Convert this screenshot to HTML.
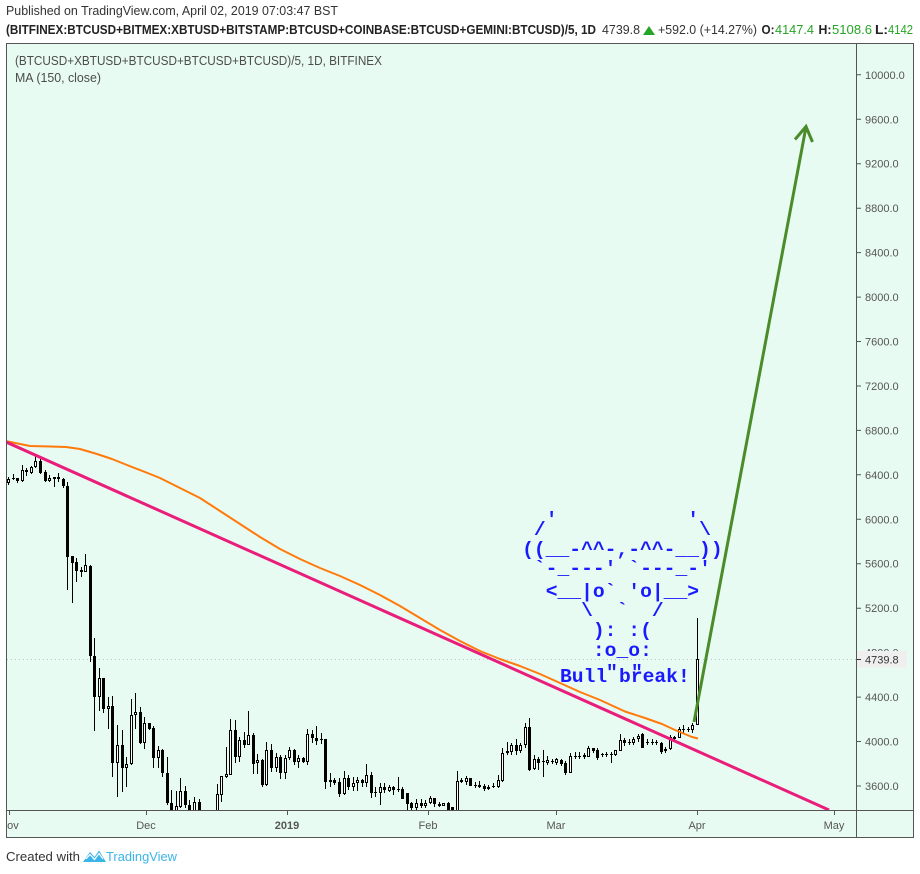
<!DOCTYPE html>
<html><head><meta charset="utf-8"><style>html,body{margin:0;padding:0;background:#fff}svg{display:block}</style></head>
<body>
<svg xmlns="http://www.w3.org/2000/svg" width="920" height="874" viewBox="0 0 920 874" font-family="'Liberation Sans', Arial, sans-serif">
<rect x="0" y="0" width="920" height="874" fill="#ffffff"/>
<!-- header -->
<text x="6" y="15" font-size="12.5" fill="#333" textLength="332" lengthAdjust="spacingAndGlyphs">Published on TradingView.com, April 02, 2019 07:03:47 BST</text>
<text x="6" y="34" font-size="12.5" font-weight="bold" fill="#222" textLength="590" lengthAdjust="spacingAndGlyphs">(BITFINEX:BTCUSD+BITMEX:XBTUSD+BITSTAMP:BTCUSD+COINBASE:BTCUSD+GEMINI:BTCUSD)/5, 1D</text>
<text x="602" y="34" font-size="12.5" fill="#333" textLength="38" lengthAdjust="spacingAndGlyphs">4739.8</text>
<polygon points="643,35 655,35 649,26" fill="#25a525"/>
<text x="658" y="34" font-size="12.5" fill="#333" textLength="99" lengthAdjust="spacingAndGlyphs">+592.0 (+14.27%)</text>
<text x="761.5" y="34" font-size="12.5" font-weight="bold" fill="#222" textLength="13" lengthAdjust="spacingAndGlyphs">O:</text>
<text x="775" y="34" font-size="12.5" fill="#25a525" textLength="39" lengthAdjust="spacingAndGlyphs">4147.4</text>
<text x="818.5" y="34" font-size="12.5" font-weight="bold" fill="#222" textLength="13" lengthAdjust="spacingAndGlyphs">H:</text>
<text x="832" y="34" font-size="12.5" fill="#25a525" textLength="40" lengthAdjust="spacingAndGlyphs">5108.6</text>
<text x="875" y="34" font-size="12.5" font-weight="bold" fill="#222" textLength="13" lengthAdjust="spacingAndGlyphs">L:</text>
<text x="888" y="34" font-size="12.5" fill="#25a525" textLength="25" lengthAdjust="spacingAndGlyphs">4142</text>

<!-- chart frame -->
<rect x="6.5" y="43.5" width="907" height="794" fill="#e8fbf2" stroke="#555" stroke-width="1"/>
<line x1="856.5" y1="43" x2="856.5" y2="838" stroke="#555" stroke-width="1"/>
<line x1="6" y1="810.5" x2="914" y2="810.5" stroke="#555" stroke-width="1"/>

<!-- legend -->
<text x="15" y="65" font-size="12.5" fill="#4c4c4c" textLength="367" lengthAdjust="spacingAndGlyphs">(BTCUSD+XBTUSD+BTCUSD+BTCUSD+BTCUSD)/5, 1D, BITFINEX</text>
<text x="15" y="82" font-size="12.5" fill="#4c4c4c" textLength="86" lengthAdjust="spacingAndGlyphs">MA (150, close)</text>

<!-- price axis -->
<g stroke="#555" stroke-width="1">
<path d="M857 74.8h4M857 119.3h4M857 163.7h4M857 208.2h4M857 252.6h4M857 297.1h4M857 341.5h4M857 386h4M857 430.4h4M857 474.8h4M857 519.3h4M857 563.7h4M857 608.2h4M857 697.1h4M857 741.5h4M857 786h4"/>
</g>
<g font-size="11" fill="#555">
<text x="865" y="78.8">10000.0</text>
<text x="865" y="123.3">9600.0</text>
<text x="865" y="167.7">9200.0</text>
<text x="865" y="212.2">8800.0</text>
<text x="865" y="256.6">8400.0</text>
<text x="865" y="301.1">8000.0</text>
<text x="865" y="345.5">7600.0</text>
<text x="865" y="390">7200.0</text>
<text x="865" y="434.4">6800.0</text>
<text x="865" y="478.8">6400.0</text>
<text x="865" y="523.3">6000.0</text>
<text x="865" y="567.7">5600.0</text>
<text x="865" y="612.2">5200.0</text>
<text x="865" y="656.6">4800.0</text>
<text x="865" y="701.1">4400.0</text>
<text x="865" y="745.5">4000.0</text>
<text x="865" y="790">3600.0</text>
</g>
<rect x="857" y="651" width="50" height="16.5" fill="#efefef"/>
<line x1="857" y1="659.5" x2="861" y2="659.5" stroke="#333" stroke-width="1"/>
<text x="865" y="663.5" font-size="11" fill="#333">4739.8</text>

<!-- time axis -->
<path d="M9.5 811v4M146.5 811v4M287.5 811v4M428.5 811v4M556.5 811v4M697.5 811v4M834.5 811v4" stroke="#555" stroke-width="1"/>
<clipPath id="tc"><rect x="7" y="811" width="849" height="26"/></clipPath>
<g font-size="11" fill="#555" text-anchor="middle" clip-path="url(#tc)">
<text x="9" y="829">Nov</text>
<text x="146" y="829">Dec</text>
<text x="287" y="829" font-weight="bold">2019</text>
<text x="428" y="829">Feb</text>
<text x="556" y="829">Mar</text>
<text x="697" y="829">Apr</text>
<text x="834" y="829">May</text>
</g>

<clipPath id="pc"><rect x="7" y="44" width="849" height="766"/></clipPath>
<g clip-path="url(#pc)">
<line x1="7" y1="659.5" x2="856" y2="659.5" stroke="#9a9a9a" stroke-width="1" stroke-dasharray="1 3" opacity="0.5"/>
<!-- wicks -->
<path fill="none" stroke="#000" stroke-width="1" d="M8.5 477V485M13.5 474V480M17.5 478V483M22.5 465V482M26.5 468V476M31.5 466V474M35.5 456V468M40.5 459V474M45.5 470V482M49.5 475V482M54.5 477V487M58.5 473V482M63.5 478V488M67.5 482V590M72.5 556V603M76.5 558V582M81.5 567V577M85.5 554V572M90.5 565V662M94.5 638V731M99.5 668V711M103.5 678V713M108.5 697V729M112.5 696V777M117.5 725V797M122.5 730V792M126.5 757V787M131.5 699V765M135.5 693V729M140.5 707V744M144.5 717V749M149.5 723V730M153.5 726V768M158.5 746V768M162.5 749V777M167.5 757V805M171.5 790V812M176.5 791V812M180.5 778V808M185.5 786V808M189.5 800V812M194.5 797V812M199.5 799V812M217.5 784V812M221.5 776V802M226.5 747V778M230.5 719V775M235.5 720V763M239.5 737V762M244.5 732V748M248.5 711V745M253.5 733V774M257.5 754V774M262.5 759V787M266.5 742V786M271.5 744V772M276.5 753V772M280.5 755V779M285.5 755V779M289.5 747V760M294.5 749V765M298.5 755V768M303.5 757V763M307.5 729V765M312.5 730V743M316.5 726V745M321.5 733V744M325.5 739V789M330.5 773V787M334.5 778V785M339.5 778V797M344.5 771V795M348.5 775V790M353.5 777V791M357.5 777V791M362.5 779V787M366.5 764V787M371.5 772V798M375.5 787V797M380.5 783V805M384.5 783V793M389.5 785V792M393.5 786V795M398.5 777V792M402.5 787V799M407.5 793V812M411.5 802V812M416.5 799V812M421.5 799V808M425.5 800V808M430.5 796V804M434.5 798V807M439.5 802V807M443.5 803V806M448.5 802V812M452.5 807V812M457.5 771V812M461.5 778V783M466.5 776V785M470.5 778V786M475.5 782V788M479.5 781V788M484.5 784V791M488.5 785V790M493.5 783V788M498.5 775V788M502.5 748V782M507.5 742V755M511.5 743V755M516.5 739V755M520.5 743V753M525.5 723V748M529.5 718V771M534.5 755V770M538.5 757V770M543.5 750V777M547.5 756V765M552.5 759V764M556.5 758V765M561.5 759V766M565.5 761V775M570.5 753V773M575.5 752V759M579.5 752V759M584.5 753V759M588.5 746V757M593.5 748V753M597.5 748V760M602.5 753V757M606.5 752V757M611.5 752V763M615.5 750V756M620.5 734V751M624.5 738V746M629.5 739V745M633.5 737V745M638.5 734V742M642.5 733V748M647.5 739V745M652.5 739V745M656.5 740V745M661.5 742V754M665.5 747V753M670.5 735V750M674.5 736V740M679.5 727V738M683.5 725V733M688.5 727V732M692.5 723V733M697.5 618V725"/>
<!-- black bodies -->
<path fill="#000" d="M12 478h3V479h-3ZM16 478h3V481h-3ZM25 470h3V472h-3ZM39 461h3V473h-3ZM44 472h3V481h-3ZM53 477h3V479h-3ZM57 477h3V479h-3ZM62 479h3V486h-3ZM66 486h3V557h-3ZM71 556h3V563h-3ZM75 562h3V571h-3ZM80 570h3V572h-3ZM89 566h3V656h-3ZM93 656h3V697h-3ZM102 678h3V709h-3ZM111 706h3V763h-3ZM121 745h3V768h-3ZM139 712h3V743h-3ZM148 723h3V729h-3ZM152 728h3V758h-3ZM161 750h3V773h-3ZM166 773h3V803h-3ZM170 803h3V812h-3ZM184 791h3V805h-3ZM188 805h3V812h-3ZM198 802h3V812h-3ZM234 730h3V757h-3ZM243 740h3V745h-3ZM252 735h3V764h-3ZM261 760h3V785h-3ZM270 750h3V768h-3ZM279 757h3V773h-3ZM293 750h3V762h-3ZM302 758h3V762h-3ZM311 734h3V738h-3ZM315 738h3V741h-3ZM320 739h3V740h-3ZM324 739h3V782h-3ZM329 780h3V782h-3ZM333 780h3V783h-3ZM338 782h3V794h-3ZM347 778h3V787h-3ZM361 780h3V783h-3ZM370 775h3V793h-3ZM374 792h3V793h-3ZM383 787h3V790h-3ZM392 787h3V790h-3ZM397 789h3V790h-3ZM401 789h3V799h-3ZM406 793h3V804h-3ZM410 803h3V808h-3ZM420 803h3V806h-3ZM433 798h3V804h-3ZM438 804h3V806h-3ZM447 803h3V812h-3ZM451 807h3V812h-3ZM460 780h3V782h-3ZM469 778h3V786h-3ZM474 785h3V786h-3ZM478 785h3V787h-3ZM483 786h3V789h-3ZM492 786h3V787h-3ZM515 745h3V751h-3ZM528 727h3V770h-3ZM537 759h3V763h-3ZM542 761h3V762h-3ZM551 761h3V762h-3ZM560 760h3V764h-3ZM564 763h3V773h-3ZM574 756h3V757h-3ZM578 756h3V757h-3ZM583 755h3V757h-3ZM592 748h3V751h-3ZM596 750h3V758h-3ZM601 754h3V755h-3ZM605 754h3V755h-3ZM610 754h3V755h-3ZM623 740h3V743h-3ZM628 742h3V743h-3ZM641 734h3V748h-3ZM646 742h3V743h-3ZM651 742h3V743h-3ZM655 742h3V743h-3ZM660 743h3V752h-3ZM664 749h3V751h-3ZM673 737h3V739h-3ZM682 729h3V730h-3ZM687 729h3V730h-3Z"/>
<!-- hollow bodies -->
<path fill="#fff" stroke="#000" stroke-width="1" d="M7.5 479.5h2v3h-2ZM21.5 470.5h2v10h-2ZM30.5 467.5h2v5h-2ZM34.5 461.5h2v5h-2ZM48.5 478.5h2v2h-2ZM84.5 565.5h2v6h-2ZM98.5 678.5h2v18h-2ZM107.5 706.5h2v2h-2ZM116.5 745.5h2v17h-2ZM125.5 764.5h2v3h-2ZM130.5 715.5h2v48h-2ZM134.5 712.5h2v2h-2ZM143.5 723.5h2v19h-2ZM157.5 750.5h2v7h-2ZM175.5 806.5h2v5h-2ZM179.5 791.5h2v15h-2ZM193.5 802.5h2v9h-2ZM216.5 794.5h2v17h-2ZM220.5 776.5h2v18h-2ZM225.5 774.5h2v2h-2ZM229.5 730.5h2v44h-2ZM238.5 740.5h2v16h-2ZM247.5 735.5h2v9h-2ZM256.5 760.5h2v2h-2ZM265.5 750.5h2v34h-2ZM275.5 757.5h2v10h-2ZM284.5 758.5h2v14h-2ZM288.5 750.5h2v7h-2ZM297.5 758.5h2v3h-2ZM306.5 734.5h2v27h-2ZM343.5 778.5h2v15h-2ZM352.5 783.5h2v3h-2ZM356.5 780.5h2v2h-2ZM365.5 775.5h2v7h-2ZM379.5 787.5h2v5h-2ZM388.5 787.5h2v3h-2ZM415.5 803.5h2v4h-2ZM424.5 803.5h2v2h-2ZM429.5 798.5h2v4h-2ZM442.5 803.5h2v2h-2ZM456.5 781.5h2v30h-2ZM465.5 778.5h2v3h-2ZM487.5 787.5h2v1h-2ZM497.5 780.5h2v6h-2ZM501.5 753.5h2v27h-2ZM506.5 751.5h2v1h-2ZM510.5 745.5h2v6h-2ZM519.5 745.5h2v5h-2ZM524.5 727.5h2v17h-2ZM533.5 759.5h2v9h-2ZM546.5 760.5h2v2h-2ZM555.5 759.5h2v3h-2ZM569.5 756.5h2v16h-2ZM587.5 748.5h2v8h-2ZM614.5 750.5h2v4h-2ZM619.5 740.5h2v10h-2ZM632.5 739.5h2v3h-2ZM637.5 736.5h2v2h-2ZM669.5 737.5h2v11h-2ZM678.5 729.5h2v8h-2ZM691.5 725.5h2v4h-2ZM696.5 659.5h2v65h-2Z"/>

<!-- MA 150 -->
<polyline fill="none" stroke="#ff7a0a" stroke-width="2" stroke-linejoin="round" points="6,441 20,444 30,446 50,446.5 66,447 80,449 97,454 112,459 127,465 145,472 160,478 180,488 200,498 220,511 240,524 260,537 280,549 300,559 320,568 340,576 360,585 380,595 400,606 420,618 440,630 460,641 480,651 500,659 520,666 540,674 560,683 580,692 600,700 625,711.5 645,718 662,724 675,730 692,737 698,738.5"/>
<!-- trend line -->
<line x1="6" y1="442" x2="829" y2="810" stroke="#e91e7a" stroke-width="3"/>
<!-- arrow -->
<g stroke="#4b8c2a" stroke-width="3" fill="none" stroke-linecap="butt" stroke-linejoin="miter">
<line x1="694" y1="722" x2="806" y2="127"/>
<polyline points="795,139.5 806,126.5 812.5,142"/>
</g>

<!-- ASCII bull -->
<g font-family="'Liberation Mono', 'DejaVu Sans Mono', monospace" font-weight="bold" font-size="19.67" fill="#1a1aff">
<text x="545.7" y="525">'</text>
<text x="687.3" y="525">'</text>
<text x="533.9" y="535">/</text>
<text x="699.1" y="535">\</text>
<text x="522.1" y="555">((__-^^-,-^^-__))</text>
<text x="533.9" y="574">`-_---'</text>
<text x="628.3" y="574">`---_-'</text>
<text x="545.7" y="597">&lt;__|o`</text>
<text x="628.3" y="597">'o|__&gt;</text>
<text x="581.1" y="616">\</text>
<text x="616.5" y="616">`</text>
<text x="651.9" y="616">/</text>
<text x="592.9" y="636">):</text>
<text x="628.3" y="636">:(</text>
<text x="592.9" y="656">:o_o:</text>
<text x="560" y="682">Bull</text>
<text x="606" y="678">"</text>
<text x="631" y="678">"</text>
<text x="619" y="682">break!</text>
</g>
</g>

<!-- footer -->
<text x="6" y="861" font-size="12.5" fill="#333" textLength="74" lengthAdjust="spacingAndGlyphs">Created with</text>
<path d="M83 862 L90 852 L94.5 857 L99 850.5 L106 862 Z" fill="#3bb4e8"/>
<path d="M86 859 L90 854.5 L94.5 859.5 L99 853.5 L103 859" fill="none" stroke="#fff" stroke-width="1.2"/>
<text x="106" y="861" font-size="12.5" fill="#3bb4e8" textLength="71" lengthAdjust="spacingAndGlyphs">TradingView</text>
</svg>
</body></html>
